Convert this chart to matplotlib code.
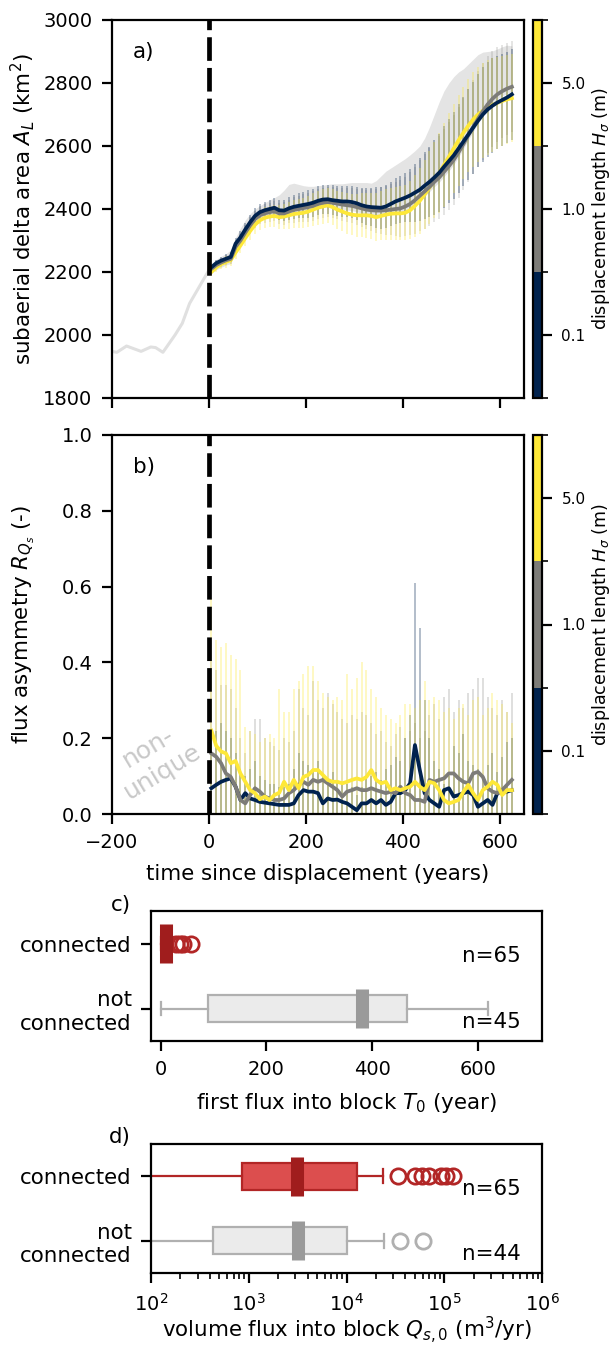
import matplotlib.pyplot as plt
import numpy as np
from matplotlib.colors import ListedColormap, BoundaryNorm
from matplotlib.cm import ScalarMappable
from matplotlib.transforms import blended_transform_factory

# ensemble output every 10 years after the displacement
t = np.arange(5, 630, 10)

# delta area before the displacement
t_pre = [-200, -190, -170, -140, -120, -110, -95, -70, -55, -40, -20, 0]
area_pre = [1948, 1945, 1965, 1948, 1962, 1960, 1945, 2000, 2037, 2100, 2153, 2206]

# ensemble mean delta area per displacement length (0.1, 1.0, 5.0 m)
area_01 = [2215, 2228, 2236, 2242, 2248, 2290, 2310, 2335, 2358, 2378,
           2390, 2396, 2400, 2404, 2396, 2395, 2402, 2407, 2410, 2413,
           2416, 2420, 2426, 2430, 2431, 2428, 2426, 2424, 2424, 2422,
           2418, 2412, 2408, 2406, 2405, 2404, 2408, 2416, 2424, 2430,
           2436, 2443, 2452, 2461, 2474, 2486, 2500, 2515, 2534, 2552,
           2570, 2592, 2614, 2636, 2658, 2680, 2700, 2716, 2728, 2738,
           2746, 2754, 2764]
area_10 = [2210, 2222, 2230, 2237, 2242, 2280, 2300, 2325, 2348, 2368,
           2380, 2386, 2390, 2393, 2386, 2386, 2392, 2397, 2400, 2403,
           2406, 2410, 2416, 2420, 2422, 2420, 2417, 2414, 2412, 2410,
           2406, 2402, 2398, 2396, 2395, 2395, 2396, 2398, 2400, 2402,
           2408, 2416, 2428, 2442, 2456, 2470, 2486, 2500, 2518, 2536,
           2556, 2580, 2606, 2634, 2660, 2686, 2710, 2732, 2750, 2764,
           2774, 2782, 2788]
area_50 = [2200, 2215, 2225, 2232, 2238, 2262, 2284, 2308, 2330, 2350,
           2364, 2372, 2376, 2378, 2374, 2376, 2380, 2384, 2386, 2388,
           2392, 2398, 2404, 2408, 2412, 2406, 2398, 2392, 2386, 2382,
           2380, 2380, 2380, 2378, 2374, 2378, 2382, 2385, 2386, 2386,
           2388, 2396, 2410, 2426, 2446, 2468, 2492, 2514, 2540, 2566,
           2592, 2618, 2642, 2664, 2684, 2700, 2712, 2722, 2730, 2737,
           2743, 2748, 2752]

# ensemble standard deviation of the delta area
area_sd_01 = [8, 10, 12, 14, 16, 18, 20, 22, 24, 25,
              26, 27, 28, 30, 32, 34, 36, 38, 40, 42,
              44, 45, 46, 46, 46, 47, 48, 49, 50, 52,
              53, 55, 58, 61, 64, 67, 69, 71, 73, 76,
              78, 84, 92, 100, 106, 112, 118, 124, 130, 134,
              138, 140, 142, 144, 146, 148, 150, 150, 150, 148,
              146, 145, 145]
area_sd_10 = [10, 12, 14, 16, 18, 20, 22, 24, 26, 27,
              28, 29, 30, 32, 34, 36, 38, 40, 42, 44,
              46, 47, 48, 48, 48, 49, 50, 52, 54, 56,
              58, 60, 63, 66, 70, 74, 78, 82, 86, 90,
              94, 100, 106, 112, 118, 124, 128, 132, 136, 140,
              142, 144, 146, 148, 150, 152, 154, 154, 152, 150,
              148, 146, 145]
area_sd_50 = [12, 14, 16, 18, 20, 22, 24, 26, 28, 30,
              32, 33, 34, 36, 38, 40, 42, 44, 46, 48,
              50, 52, 54, 55, 56, 58, 60, 62, 64, 66,
              68, 70, 72, 74, 76, 78, 80, 82, 84, 86,
              88, 92, 98, 104, 110, 116, 122, 128, 134, 138,
              142, 144, 146, 148, 150, 150, 150, 150, 148, 146,
              144, 142, 140]

# range of the undisturbed reference runs
ref_hi = [2225, 2240, 2250, 2258, 2270, 2310, 2340, 2365, 2385, 2400,
          2410, 2420, 2428, 2436, 2445, 2460, 2478, 2482, 2478, 2474,
          2472, 2472, 2474, 2476, 2478, 2480, 2480, 2480, 2482, 2484,
          2484, 2484, 2484, 2482, 2490, 2505, 2520, 2530, 2540, 2550,
          2560, 2572, 2585, 2600, 2625, 2660, 2700, 2740, 2775, 2800,
          2820, 2835, 2845, 2860, 2875, 2890, 2898, 2900, 2902, 2908,
          2915, 2920, 2918]
ref_lo = [2195, 2207, 2215, 2222, 2227, 2265, 2285, 2310, 2333, 2353,
          2365, 2371, 2375, 2378, 2371, 2371, 2377, 2382, 2385, 2388,
          2391, 2395, 2401, 2405, 2407, 2405, 2402, 2399, 2397, 2395,
          2391, 2387, 2383, 2381, 2380, 2380, 2381, 2383, 2385, 2387,
          2393, 2401, 2413, 2427, 2441, 2455, 2471, 2485, 2503, 2521,
          2541, 2565, 2591, 2619, 2645, 2671, 2695, 2717, 2735, 2749,
          2759, 2767, 2773]

# flux asymmetry, ensemble mean
rq_01 = [0.068, 0.077, 0.085, 0.09, 0.094, 0.072, 0.037, 0.055, 0.041, 0.037,
         0.032, 0.03, 0.028, 0.026, 0.024, 0.024, 0.024, 0.028, 0.05, 0.063,
         0.059, 0.059, 0.055, 0.028, 0.041, 0.037, 0.038, 0.032, 0.028, 0.019,
         0.01, 0.028, 0.028, 0.037, 0.028, 0.037, 0.024, 0.032, 0.055, 0.055,
         0.063, 0.081, 0.182, 0.116, 0.055, 0.037, 0.028, 0.019, 0.063, 0.068,
         0.046, 0.05, 0.055, 0.059, 0.05, 0.019, 0.028, 0.037, 0.024, 0.055,
         0.059, 0.059, 0.063]
rq_10 = [0.16, 0.151, 0.134, 0.107, 0.098, 0.072, 0.037, 0.028, 0.05, 0.068,
         0.059, 0.046, 0.041, 0.037, 0.037, 0.041, 0.055, 0.063, 0.077, 0.085,
         0.077, 0.09, 0.085, 0.09, 0.081, 0.072, 0.063, 0.046, 0.059, 0.063,
         0.068, 0.063, 0.063, 0.068, 0.063, 0.059, 0.055, 0.059, 0.055, 0.072,
         0.055, 0.05, 0.037, 0.037, 0.032, 0.09, 0.085, 0.09, 0.094, 0.107,
         0.107, 0.094, 0.085, 0.081, 0.107, 0.111, 0.098, 0.068, 0.059, 0.055,
         0.063, 0.077, 0.09]
rq_50 = [0.22, 0.18, 0.165, 0.16, 0.134, 0.14, 0.107, 0.085, 0.063, 0.055,
         0.039, 0.046, 0.037, 0.05, 0.056, 0.085, 0.063, 0.09, 0.068, 0.098,
         0.103, 0.116, 0.116, 0.103, 0.09, 0.085, 0.085, 0.081, 0.085, 0.09,
         0.094, 0.09, 0.098, 0.116, 0.09, 0.081, 0.085, 0.063, 0.068, 0.063,
         0.068, 0.072, 0.085, 0.072, 0.063, 0.085, 0.081, 0.063, 0.037, 0.028,
         0.032, 0.037, 0.058, 0.077, 0.055, 0.037, 0.063, 0.072, 0.085, 0.077,
         0.05, 0.063, 0.063]

# flux asymmetry, upper end of the ensemble spread
rq_top_01 = [0.2, 0.22, 0.24, 0.22, 0.2, 0.16, 0.12, 0.1, 0.12, 0.14,
             0.1, 0.09, 0.08, 0.08, 0.07, 0.07, 0.08, 0.12, 0.16, 0.14,
             0.13, 0.12, 0.14, 0.1, 0.09, 0.11, 0.09, 0.08, 0.08, 0.07,
             0.05, 0.07, 0.1, 0.1, 0.11, 0.09, 0.12, 0.13, 0.15, 0.14,
             0.2, 0.26, 0.61, 0.49, 0.3, 0.2, 0.14, 0.12, 0.08, 0.1,
             0.18, 0.16, 0.21, 0.14, 0.13, 0.12, 0.1, 0.13, 0.16, 0.11,
             0.15, 0.19, 0.2]
rq_top_10 = [0.46, 0.38, 0.34, 0.34, 0.33, 0.28, 0.2, 0.16, 0.22, 0.25,
             0.25, 0.2, 0.19, 0.18, 0.17, 0.2, 0.19, 0.22, 0.33, 0.28,
             0.26, 0.35, 0.3, 0.28, 0.32, 0.29, 0.27, 0.25, 0.24, 0.26,
             0.25, 0.27, 0.26, 0.24, 0.21, 0.22, 0.19, 0.18, 0.21, 0.23,
             0.2, 0.22, 0.24, 0.2, 0.22, 0.26, 0.29, 0.25, 0.31, 0.33,
             0.27, 0.3, 0.28, 0.32, 0.33, 0.36, 0.36, 0.31, 0.28, 0.26,
             0.3, 0.27, 0.32]
rq_top_50 = [0.57, 0.46, 0.44, 0.45, 0.42, 0.41, 0.38, 0.23, 0.22, 0.21,
             0.19, 0.2, 0.21, 0.2, 0.33, 0.27, 0.27, 0.33, 0.35, 0.37,
             0.39, 0.39, 0.35, 0.32, 0.31, 0.3, 0.31, 0.3, 0.37, 0.33,
             0.36, 0.4, 0.38, 0.33, 0.31, 0.28, 0.26, 0.25, 0.24, 0.26,
             0.29, 0.29, 0.28, 0.3, 0.35, 0.3, 0.31, 0.3, 0.27, 0.28,
             0.25, 0.28, 0.29, 0.26, 0.3, 0.31, 0.26, 0.28, 0.32, 0.3,
             0.29, 0.27, 0.24]

H_labels = ['0.1', '1.0', '5.0']
groups = ['connected', 'not\nconnected']

# box statistics: first flux time T0 (years)
T0_med = [10, 381]
T0_q1 = [2, 90]
T0_q3 = [16, 465]
T0_lo = [0, 0]
T0_hi = [24, 619]
T0_fliers = [[29, 36, 42, 58], []]
T0_n = [65, 45]

# box statistics: volume flux Qs0 (m3/yr)
Q_med = [3120, 3200]
Q_q1 = [847, 434]
Q_q3 = [12900, 10190]
Q_lo = [40, 30]
Q_hi = [23400, 24400]
Q_fliers = [[33900, 50000, 58900, 69200, 93300, 104700, 123000], [35200, 60000]]
Q_n = [65, 44]

cols = [plt.cm.cividis(0.0), plt.cm.cividis(0.5), plt.cm.cividis(1.0)]
box_face = ['#dc4e4e', '#ebebeb']
box_edge = ['#b22626', '#b0b0b0']
box_med = ['#a01d1d', '#9a9a9a']

TICK = 7
LAB = 7.7
LW = 1.35

W, H = 610, 1348
fig = plt.figure(figsize=(W / 200, H / 200), dpi=200)


def add_px(x0, y0, x1, y1):
    return fig.add_axes([x0 / W, 1 - y1 / H, (x1 - x0) / W, (y1 - y0) / H])


def discrete_cbar(cax):
    cmap = ListedColormap(cols)
    norm = BoundaryNorm([0, 1, 2, 3], 3)
    cb = fig.colorbar(ScalarMappable(norm=norm, cmap=cmap), cax=cax, ticks=[0.5, 1.5, 2.5])
    cb.set_ticklabels(H_labels)
    cb.ax.tick_params(labelsize=5.5)
    cb.set_label(r'displacement length $H_\sigma$ (m)', fontsize=6.3, labelpad=1.5)
    return cb


# ---- a) delta area ----
ax1 = add_px(112, 20, 524, 398)
ax1.fill_between(t, ref_lo, ref_hi, color='#e4e4e4', lw=0, zorder=1)
ax1.plot(t_pre, area_pre, color='#e0e0e0', lw=1.1, zorder=2)
for mean, sd, c, a in [(area_10, area_sd_10, cols[1], 0.2), (area_01, area_sd_01, cols[0], 0.3),
                       (area_50, area_sd_50, cols[2], 0.3)]:
    m = np.array(mean)
    s = np.array(sd)
    ax1.vlines(t, m - s, m + s, color=c, alpha=a, lw=0.7, zorder=3)
for mean, c in [(area_50, cols[2]), (area_10, cols[1]), (area_01, cols[0])]:
    ax1.plot(t, mean, color=c, lw=LW, zorder=4)
ax1.axvline(0, color='k', lw=1.7, ls=(0, (5, 1.5)), zorder=6)
ax1.set_xlim(-200, 650)
ax1.set_ylim(1800, 3000)
ax1.set_xticks([-200, 0, 200, 400, 600])
ax1.set_xticklabels([])
ax1.set_yticks(np.arange(1800, 3001, 200))
ax1.tick_params(labelsize=TICK)
ax1.set_ylabel(r'subaerial delta area $A_L$ (km$^2$)', fontsize=LAB)
ax1.yaxis.set_label_coords(-0.182, 0.5)
ax1.text(0.05, 0.915, 'a)', transform=ax1.transAxes, fontsize=LAB, va='center')
discrete_cbar(add_px(533, 20, 542, 398))

# ---- b) flux asymmetry ----
ax2 = add_px(112, 435, 524, 814)
for top, c, a in [(rq_top_10, cols[1], 0.25), (rq_top_01, cols[0], 0.3), (rq_top_50, cols[2], 0.3)]:
    ax2.vlines(t, 0, top, color=c, alpha=a, lw=0.7, zorder=2)
for mean, c in [(rq_01, cols[0]), (rq_10, cols[1]), (rq_50, cols[2])]:
    ax2.plot(t, mean, color=c, lw=LW, zorder=4)
ax2.axvline(0, color='k', lw=1.7, ls=(0, (5, 1.5)), zorder=6)
ax2.text(-110, 0.144, 'non-\nunique', color='#c8c8c8', fontsize=9, rotation=31,
         ha='center', va='center', multialignment='center')
ax2.set_xlim(-200, 650)
ax2.set_ylim(0, 1)
ax2.set_xticks([-200, 0, 200, 400, 600])
ax2.set_yticks(np.arange(0, 1.01, 0.2))
ax2.tick_params(labelsize=TICK)
ax2.set_xlabel('time since displacement (years)', fontsize=LAB)
ax2.set_ylabel(r'flux asymmetry $R_{Q_s}$ (-)', fontsize=LAB)
ax2.yaxis.set_label_coords(-0.182, 0.5)
ax2.text(0.05, 0.916, 'b)', transform=ax2.transAxes, fontsize=LAB, va='center')
discrete_cbar(add_px(533, 435, 542, 814))


def draw_boxes(ax, med, q1, q3, lo, hi, fliers, n):
    for i in range(2):
        stats = [dict(med=med[i], q1=q1[i], q3=q3[i], whislo=lo[i], whishi=hi[i],
                      fliers=fliers[i])]
        ax.bxp(stats, positions=[i], widths=0.42, vert=False, patch_artist=True,
               boxprops=dict(facecolor=box_face[i], edgecolor=box_edge[i], lw=0.8),
               whiskerprops=dict(color=box_edge[i], lw=0.8),
               capprops=dict(color=box_edge[i], lw=0.8),
               medianprops=dict(color=box_face[i], lw=0),
               flierprops=dict(marker='o', markerfacecolor='none',
                               markeredgecolor=box_edge[i], markersize=5.5, mew=1.0))
        ax.plot([med[i], med[i]], [i - 0.3, i + 0.3], color=box_med[i], lw=4.7,
                solid_capstyle='butt', zorder=5)
        tr = blended_transform_factory(ax.transAxes, ax.transData)
        ax.text(0.946, i + 0.2, 'n=%d' % n[i], transform=tr, ha='right', va='center',
                fontsize=LAB)
    ax.set_ylim(1.5, -0.5)
    ax.set_yticks([0, 1])
    ax.set_yticklabels(groups, fontsize=LAB)
    ax.tick_params(axis='x', labelsize=TICK)


# ---- c) first flux time ----
ax3 = add_px(151, 911, 542, 1041)
draw_boxes(ax3, T0_med, T0_q1, T0_q3, T0_lo, T0_hi, T0_fliers, T0_n)
ax3.set_xlim(-18, 720)
ax3.set_xticks([0, 200, 400, 600])
ax3.set_xlabel(r'first flux into block $T_0$ (year)', fontsize=LAB)
ax3.text(-0.051, 1.046, 'c)', transform=ax3.transAxes, ha='right', va='center', fontsize=LAB)

# ---- d) volume flux ----
ax4 = add_px(151, 1144, 542, 1273)
ax4.set_xscale('log')
draw_boxes(ax4, Q_med, Q_q1, Q_q3, Q_lo, Q_hi, Q_fliers, Q_n)
ax4.set_xlim(1e2, 1e6)
ax4.set_xlabel(r'volume flux into block $Q_{s,0}$ (m$^3$/yr)', fontsize=LAB, labelpad=0)
ax4.text(-0.051, 1.054, 'd)', transform=ax4.transAxes, ha='right', va='center', fontsize=LAB)

fig.savefig('out.png', dpi=200)
